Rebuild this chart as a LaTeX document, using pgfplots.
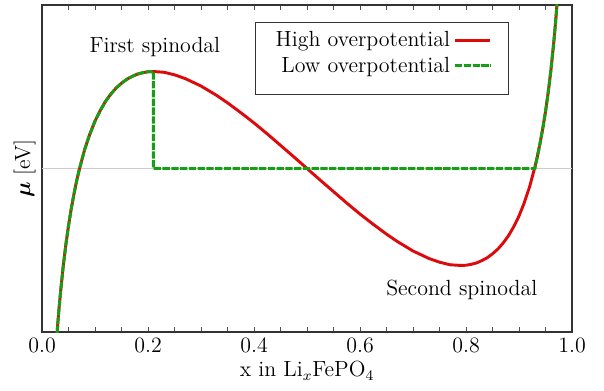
\documentclass[border=0pt]{standalone}
\usepackage{pgfplots}
\pgfplotsset{compat=1.18}
\usepackage{bm}
\definecolor{myred}{RGB}{220,10,10}
\definecolor{mygreen}{RGB}{20,160,20}
\begin{document}
\begin{tikzpicture}
\begin{axis}[
  scale only axis,
  width=290pt, height=179pt,
  xmin=0, xmax=1, ymin=-0.7, ymax=0.7,
  xtick={0,0.2,...,1.0},
  minor x tick num=3,
  ytick=\empty,
  tick align=inside,
  xtick pos=both,
  major tick length=3pt, minor tick length=3pt,
  axis line style={line width=0.7pt, black!80},
  tick style={black!70, line width=0.5pt},
  tick label style={font=\large},
  label style={font=\large},
  x tick label style={/pgf/number format/.cd, fixed, fixed zerofill, precision=1},
  xlabel={x in Li$_x$FePO$_4$},
  ylabel={$\bm{\mu}$ [eV]},
  xlabel style={yshift=2pt},
  ylabel style={yshift=0pt},
  clip=true,
  legend plot pos=right,
  legend cell align=right,
  legend image code/.code={\draw[#1] (0cm,0cm) -- (0.68cm,0cm);},
  legend style={at={(0.402,0.948)}, anchor=north west, draw=black!80, line width=0.6pt,
    inner xsep=9pt, inner ysep=3pt, font=\large},
]
\addplot[gray!40, line width=0.8pt, forget plot] coordinates {(0,0) (1,0)};
\addplot[myred, line width=1.6pt] coordinates {
(0.026,-0.779) (0.028,-0.715) (0.03,-0.656) (0.032,-0.601) (0.035,-0.527) (0.04,-0.418)
(0.045,-0.325) (0.05,-0.244) (0.055,-0.174) (0.06,-0.112) (0.065,-0.056) (0.07,-0.007)
(0.08,0.078) (0.09,0.146) (0.10,0.203) (0.11,0.249) (0.12,0.288) (0.13,0.319)
(0.14,0.345) (0.15,0.365) (0.16,0.382) (0.17,0.394) (0.18,0.404) (0.19,0.410)
(0.20,0.414) (0.21,0.415) (0.23,0.412) (0.25,0.401) (0.27,0.385) (0.30,0.353)
(0.33,0.312) (0.35,0.281) (0.375,0.239) (0.40,0.195) (0.425,0.148) (0.45,0.099)
(0.475,0.050) (0.50,0) (0.525,-0.050) (0.55,-0.099) (0.575,-0.148) (0.60,-0.195)
(0.625,-0.239) (0.65,-0.281) (0.67,-0.312) (0.70,-0.353) (0.73,-0.385) (0.75,-0.401)
(0.77,-0.412) (0.79,-0.415) (0.80,-0.414) (0.81,-0.410) (0.82,-0.404) (0.83,-0.394)
(0.84,-0.382) (0.85,-0.365) (0.86,-0.345) (0.87,-0.319) (0.88,-0.288) (0.89,-0.249)
(0.90,-0.203) (0.91,-0.146) (0.92,-0.078) (0.93,0.007) (0.935,0.056) (0.94,0.112)
(0.945,0.174) (0.95,0.244) (0.955,0.325) (0.96,0.418) (0.965,0.527) (0.968,0.601)
(0.97,0.656) (0.972,0.715) (0.974,0.779)
};
\addlegendentry{High overpotential}
\addplot[mygreen, line width=1.6pt, dash pattern=on 4pt off 0.8pt] coordinates {
(0.026,-0.779) (0.028,-0.715) (0.03,-0.656) (0.032,-0.601) (0.035,-0.527) (0.04,-0.418)
(0.045,-0.325) (0.05,-0.244) (0.055,-0.174) (0.06,-0.112) (0.065,-0.056) (0.07,-0.007)
(0.08,0.078) (0.09,0.146) (0.10,0.203) (0.11,0.249) (0.12,0.288) (0.13,0.319)
(0.14,0.345) (0.15,0.365) (0.16,0.382) (0.17,0.394) (0.18,0.404) (0.19,0.410)
(0.20,0.414) (0.21,0.415) (0.21,0) (0.93,0) (0.935,0.056) (0.94,0.112)
(0.945,0.174) (0.95,0.244) (0.955,0.325) (0.96,0.418) (0.965,0.527) (0.968,0.601)
(0.97,0.656) (0.972,0.715) (0.974,0.779)
};
\addlegendentry{Low overpotential}
\addlegendimage{empty legend}
\addlegendentry{}
\node[font=\large] at (axis cs:0.213,0.52) {First spinodal};
\node[font=\large] at (axis cs:0.792,-0.52) {Second spinodal};
\end{axis}
\path (current axis.south west) ++(-23pt,-32pt) coordinate (bl);
\path (current axis.north east) ++(17.5pt,2.7pt) coordinate (tr);
\path (bl) rectangle (tr);
\end{tikzpicture}
\end{document}
